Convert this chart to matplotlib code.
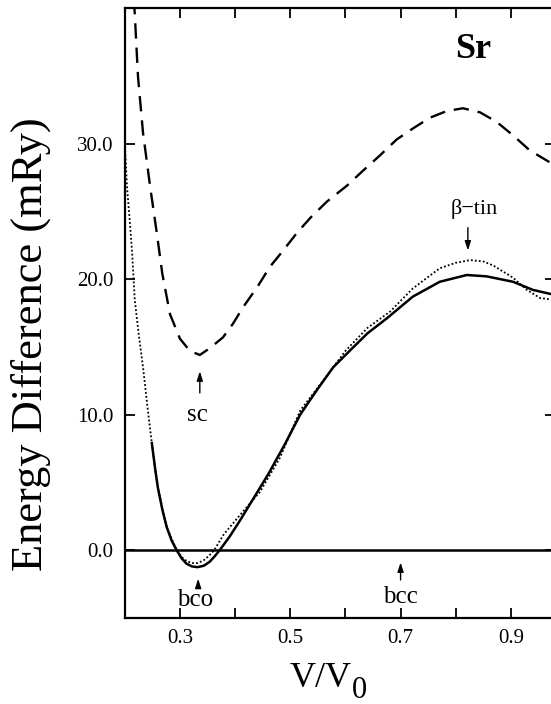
import matplotlib
matplotlib.use("Agg")
import matplotlib.pyplot as plt

plt.rcParams['font.family'] = ['Liberation Serif', 'DejaVu Serif']

# dashed curve (sc)
sc_x = [0.216, 0.218, 0.224, 0.233, 0.246, 0.258, 0.268, 0.282, 0.300, 0.318, 0.336,
        0.354, 0.378, 0.396, 0.414, 0.440, 0.463, 0.487, 0.512, 0.536, 0.566, 0.603,
        0.632, 0.662, 0.693, 0.722, 0.753, 0.784, 0.813, 0.844, 0.874, 0.904, 0.934,
        0.971, 0.985]
sc_y = [41.0, 39.6, 34.9, 30.8, 26.8, 23.4, 20.4, 17.4, 15.6, 14.7, 14.4,
        14.9, 15.7, 16.7, 17.9, 19.4, 20.9, 22.1, 23.4, 24.5, 25.7, 26.9,
        28.0, 29.1, 30.3, 31.1, 31.9, 32.4, 32.6, 32.3, 31.6, 30.6, 29.5,
        28.6, 28.3]

# solid curve (bco)
bco_x = [0.249, 0.255, 0.260, 0.268, 0.276, 0.285, 0.294, 0.303, 0.312, 0.322, 0.332,
         0.343, 0.354, 0.363, 0.372, 0.390, 0.409, 0.433, 0.460, 0.490, 0.518, 0.548,
         0.578, 0.610, 0.640, 0.675, 0.722, 0.771, 0.820, 0.856, 0.904, 0.940, 0.972, 0.985]
bco_y = [7.9, 6.0, 4.6, 3.0, 1.7, 0.7, 0.0, -0.6, -1.0, -1.2, -1.25,
         -1.15, -0.85, -0.45, 0.0, 1.0, 2.2, 3.8, 5.6, 7.8, 10.0, 11.8,
         13.5, 14.8, 16.0, 17.1, 18.7, 19.8, 20.3, 20.2, 19.8, 19.2, 18.9, 18.8]

# dotted curve (beta-tin)
bt_x = [0.195, 0.198, 0.200, 0.204, 0.209, 0.213, 0.218, 0.225, 0.233, 0.241, 0.249,
        0.260, 0.276, 0.294, 0.303, 0.312, 0.322, 0.332, 0.343, 0.353, 0.362, 0.380,
        0.409, 0.445, 0.481, 0.518, 0.550, 0.600, 0.640, 0.681, 0.722, 0.771, 0.800,
        0.826, 0.850, 0.868, 0.904, 0.929, 0.953, 0.972, 0.985]
bt_y = [36.5, 33.2, 30.0, 26.8, 24.3, 22.1, 18.5, 16.0, 13.5, 10.6, 7.9,
        4.6, 1.7, 0.0, -0.5, -0.8, -0.95, -0.95, -0.75, -0.4, 0.0, 1.2,
        2.6, 4.3, 6.8, 10.3, 12.0, 14.7, 16.4, 17.6, 19.3, 20.8, 21.2,
        21.4, 21.3, 21.0, 20.1, 19.2, 18.6, 18.5, 18.5]

fig = plt.figure(figsize=(5.51, 7.04), dpi=100)
ax = fig.add_axes([0.2265, 0.1222, 0.7808, 0.8665])

ax.plot(sc_x, sc_y, color='black', lw=1.7, linestyle=(0, (6.5, 3.8)))
ax.plot(bt_x, bt_y, color='black', lw=1.3, linestyle=(0, (1, 1.2)))
ax.plot(bco_x, bco_y, color='black', lw=1.8)
ax.axhline(0.0, color='black', lw=1.8)

ax.set_xlim(0.2, 0.98)
ax.set_ylim(-5, 40)
ax.set_xticks([0.3, 0.5, 0.7, 0.9])
ax.set_xticklabels(['0.3', '0.5', '0.7', '0.9'])
ax.set_xticks([0.4, 0.6, 0.8], minor=True)
ax.set_yticks([0.0, 10.0, 20.0, 30.0])
ax.set_yticklabels(['0.0', '10.0', '20.0', '30.0'])
ax.tick_params(which='both', direction='in', top=True, right=True, length=7, width=1.3,
               labelsize=15, pad=8)
for s in ax.spines.values():
    s.set_linewidth(1.6)

ax.text(0.831, 36.9, 'Sr', fontsize=26, fontweight='bold', ha='center', va='center')

arrow = dict(arrowstyle='-|>,head_length=0.55,head_width=0.18', color='black', lw=1.0)
ax.annotate('', xy=(0.336, 13.4), xytext=(0.336, 11.4), arrowprops=arrow)
ax.text(0.331, 9.95, 'sc', fontsize=18, ha='center', va='center')
ax.annotate('', xy=(0.333, -1.9), xytext=(0.333, -2.95), arrowprops=arrow)
ax.text(0.328, -3.7, 'bco', fontsize=18, ha='center', va='center')
ax.annotate('', xy=(0.700, -0.7), xytext=(0.700, -2.4), arrowprops=arrow)
ax.text(0.700, -3.45, 'bcc', fontsize=18, ha='center', va='center')
ax.annotate('', xy=(0.822, 21.9), xytext=(0.822, 24.0), arrowprops=arrow)
ax.text(0.833, 25.2, 'β−tin', fontsize=16, ha='center', va='center')

fig.text(0.055, 0.511, 'Energy Difference (mRy)', fontsize=32, rotation=90,
         ha='center', va='center')
fig.text(0.526, 0.0241, 'V/V', fontsize=26, ha='left', va='baseline')
fig.text(0.639, 0.0085, '0', fontsize=22, ha='left', va='baseline')

fig.savefig('out.png', dpi=100)
